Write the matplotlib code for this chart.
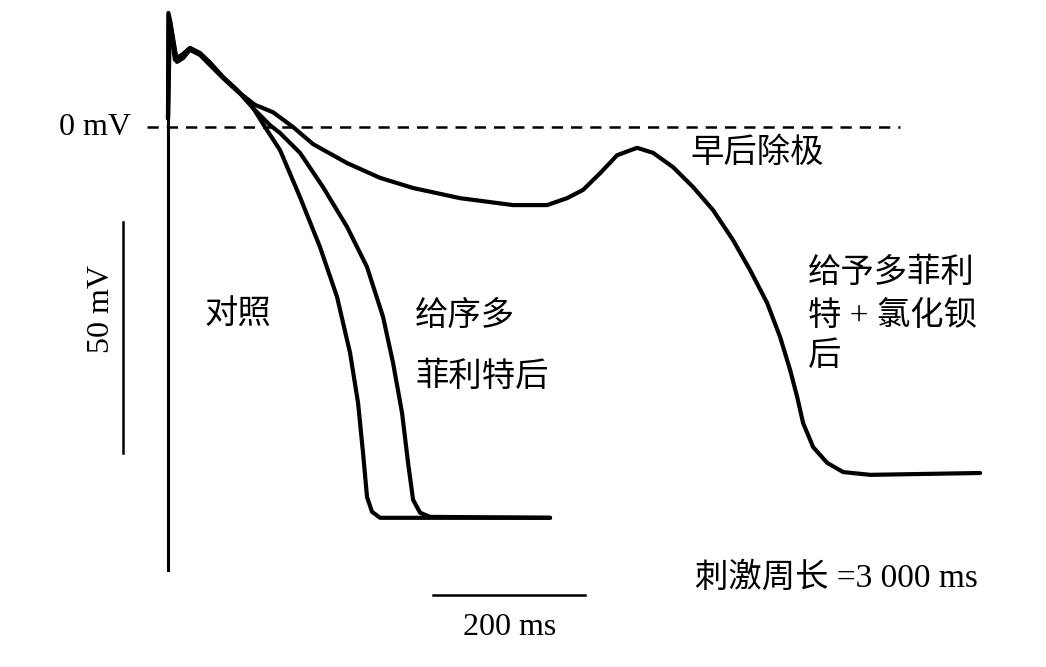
import numpy as np
import matplotlib.pyplot as plt

plt.rcParams['font.family'] = ['Liberation Serif', 'Noto Sans CJK SC']

# ==================== 数据 (时间 ms, 电压 mV) ====================
# 对照
ctrl_t = [0, 0.5, 9.2, 15.8, 28.9, 42.1, 55.3, 72.4, 90.8, 107.9, 127.6, 147.4,
          173.7, 200, 222.4, 239.5, 250, 256.6, 261.8, 268.4, 278.9, 298.7, 502.6]
ctrl_v = [1.9, 24.7, 14.5, 15.2, 17.1, 16.0, 13.9, 10.8, 8.0, 5.2, 0, -5.0,
          -15.2, -26.0, -36.8, -48.9, -59.7, -70.6, -80.1, -83.3, -84.6, -84.6, -84.6]

# 多菲利特后
dof_t = [0, 1.3, 10.5, 18.4, 28.9, 42.1, 55.3, 72.4, 90.8, 111.8, 134.2, 147.4,
         173.7, 203.9, 235.5, 261.8, 282.9, 296.1, 307.9, 315.8, 322.4, 331.6,
         344.7, 502.6]
dof_v = [1.9, 24.2, 14.9, 15.6, 17.1, 16.0, 13.9, 10.8, 8.0, 4.1, 0.4, -1.3,
         -5.6, -13.0, -21.6, -30.3, -41.1, -51.1, -61.9, -72.7, -80.7, -83.5,
         -84.4, -84.6]

# 多菲利特 + 氯化钡后 (早后除极)
ead_t = [0, 2.6, 11.8, 19.7, 28.9, 42.1, 55.3, 72.4, 90.8, 114.5, 138.2, 164.5,
         190.8, 235.5, 278.9, 322.4, 384.2, 453.9, 498.7, 525, 546.1, 568.4,
         590.8, 617.1, 638.2, 664.5, 690.8, 717.1, 743.4, 765.8, 788.2, 805.3,
         818.4, 827.6, 835.5, 848.7, 867.1, 888.2, 923.7, 1068.4]
ead_v = [1.9, 23.2, 14.1, 14.9, 16.7, 15.6, 13.4, 10.6, 7.8, 4.8, 3.2, 0,
         -3.7, -7.8, -11.0, -13.2, -15.4, -16.9, -16.9, -15.4, -13.6, -10.0,
         -6.1, -4.5, -5.6, -8.7, -13.0, -18.0, -24.5, -31.0, -38.1, -45.5,
         -52.6, -58.4, -64.1, -69.3, -72.7, -74.7, -75.3, -74.9]

zero_line = [-28, 963]       # 0 mV 虚线范围
axis_v = [24, -96]           # 纵轴
bar_mv = [-20.6, -70.6]      # 50 mV 标尺
bar_mv_t = -59
bar_ms = [349, 549]          # 200 ms 标尺
bar_ms_v = -101.3
# ================================================

fig = plt.figure(figsize=(10.46, 6.67), dpi=100)
ax = fig.add_axes([0, 0, 1, 1])
ax.set_xlim(-221, 1155)
ax.set_ylim(-116.9, 27.5)
ax.axis('off')

lw = 3.0
for t, v in [(ctrl_t, ctrl_v), (dof_t, dof_v), (ead_t, ead_v)]:
    ax.plot(t, v, color='black', lw=lw, solid_joinstyle='round', solid_capstyle='round')

ax.plot([0, 0], axis_v, color='black', lw=2.2)
ax.plot(zero_line, [0, 0], color='black', lw=1.8, dashes=(4.5, 3.2))
ax.plot([bar_mv_t, bar_mv_t], bar_mv, color='black', lw=1.8)
ax.plot(bar_ms, [bar_ms_v, bar_ms_v], color='black', lw=1.8)

fs = 24
fl = 23
ax.text(-49, 0, '0 mV', ha='right', va='center', fontsize=fl)
ax.text(-88, -39.5, '50 mV', ha='center', va='center', rotation=90, fontsize=fl)
ax.text(450, -108.4, '200 ms', ha='center', va='center', fontsize=fl)
ax.text(693, -97.6, '刺激周长 =3 000 ms', ha='left', va='center', fontsize=fs)
ax.text(92, -40.7, '对照', ha='center', va='center', fontsize=fs)
ax.text(325, -41.1, '给序多', ha='left', va='center', fontsize=fs)
ax.text(325, -54.1, '菲利特后', ha='left', va='center', fontsize=fs)
ax.text(687, -5.6, '早后除极', ha='left', va='center', fontsize=fs)
ax.text(842, -31.6, '给予多菲利', ha='left', va='center', fontsize=fs)
ax.text(842, -41.1, '特 + 氯化钡', ha='left', va='center', fontsize=fs)
ax.text(842, -49.8, '后', ha='left', va='center', fontsize=fs)

fig.savefig('out.png', dpi=100)
